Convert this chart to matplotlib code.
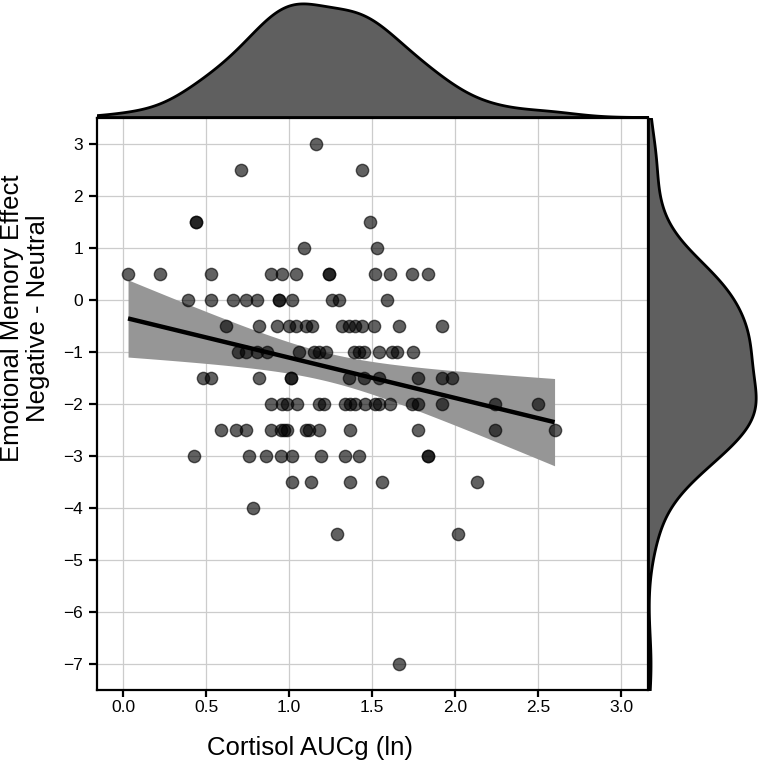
import numpy as np
import matplotlib
matplotlib.use("Agg")
import matplotlib.pyplot as plt

plt.rcParams['font.family'] = ['Liberation Sans', 'DejaVu Sans']

# ---- data ----
y_levels = [3.0, 2.5, 1.5, 1.0, 0.5, 0.0, -0.5, -1.0, -1.5, -2.0, -2.5, -3.0, -3.5, -4.0, -4.5, -7.0]
cortisol_by_level = [
    [1.16],
    [0.71, 1.44],
    [0.44, 0.44, 1.49],
    [1.09, 1.53],
    [0.03, 0.22, 0.53, 0.89, 0.96, 1.04, 1.24, 1.24, 1.52, 1.61, 1.74, 1.84],
    [0.39, 0.53, 0.66, 0.74, 0.81, 0.94, 0.94, 1.02, 1.26, 1.30, 1.59],
    [0.62, 0.82, 0.93, 1.00, 1.04, 1.10, 1.14, 1.32, 1.36, 1.40, 1.44, 1.51, 1.66, 1.92],
    [0.69, 0.74, 0.81, 0.87, 1.06, 1.15, 1.18, 1.22, 1.39, 1.42, 1.45, 1.54, 1.62, 1.65, 1.75],
    [0.48, 0.53, 0.82, 1.01, 1.01, 1.36, 1.45, 1.54, 1.78, 1.92, 1.98],
    [0.89, 0.96, 0.99, 1.05, 1.18, 1.21, 1.34, 1.37, 1.40, 1.46, 1.52, 1.54, 1.61, 1.74, 1.78, 1.92, 2.24, 2.50],
    [0.59, 0.68, 0.74, 0.89, 0.95, 0.97, 0.99, 1.10, 1.12, 1.18, 1.37, 1.78, 2.24, 2.60],
    [0.43, 0.76, 0.86, 0.95, 1.02, 1.19, 1.34, 1.42, 1.84, 1.84],
    [1.02, 1.13, 1.37, 1.56, 2.13],
    [0.78],
    [1.29, 2.02],
    [1.66],
]
x_ticks = [0.0, 0.5, 1.0, 1.5, 2.0, 2.5, 3.0]
y_ticks = [-7, -6, -5, -4, -3, -2, -1, 0, 1, 2, 3]
x_label = "Cortisol AUCg (ln)"
y_label = "Emotional Memory Effect\nNegative - Neutral"

cortisol = np.array([v for row in cortisol_by_level for v in row])
memory = np.array([lvl for lvl, row in zip(y_levels, cortisol_by_level) for _ in row])

# ---- figure layout ----
W, H = 760, 766
fig = plt.figure(figsize=(W / 100, H / 100), dpi=100)
ax = fig.add_axes([97 / W, 1 - 690 / H, 551 / W, 572 / H])
ax_top = fig.add_axes([97 / W, 1 - 117 / H, 551 / W, 117 / H], sharex=ax)
ax_right = fig.add_axes([648 / W, 1 - 690 / H, 112 / W, 572 / H], sharey=ax)

xlim = (-0.157, 3.163)
ylim = (-7.5, 3.5)

# scatter
ax.scatter(cortisol, memory, s=78, c='black', alpha=0.62, edgecolors='black',
           linewidths=1.0, zorder=3)

# regression with 95% CI
n = len(cortisol)
b, a = np.polyfit(cortisol, memory, 1)
xg = np.linspace(cortisol.min(), cortisol.max(), 100)
yg = a + b * xg
resid = memory - (a + b * cortisol)
s = np.sqrt(np.sum(resid ** 2) / (n - 2))
sxx = np.sum((cortisol - cortisol.mean()) ** 2)
se = s * np.sqrt(1 / n + (xg - cortisol.mean()) ** 2 / sxx)
tval = 1.98
ax.fill_between(xg, yg - tval * se, yg + tval * se, color='#969696', alpha=1.0,
                linewidth=0, zorder=2)
ax.plot(xg, yg, color='black', lw=3.2, zorder=4, solid_capstyle='butt')

ax.set_xlim(*xlim)
ax.set_ylim(*ylim)
ax.set_xticks(x_ticks)
ax.set_xticklabels([f"{t:.1f}" for t in x_ticks])
ax.set_yticks(y_ticks)
ax.grid(True, color='#cccccc', lw=0.9, zorder=0)
ax.set_axisbelow(True)
for sp in ax.spines.values():
    sp.set_color('black')
    sp.set_linewidth(1.6)
ax.tick_params(axis='both', direction='out', width=1.6, labelsize=12.5, colors='black')
ax.tick_params(axis='x', length=5, pad=2)
ax.tick_params(axis='y', length=6, pad=4)

ax.set_xlabel(x_label, fontsize=18.5, va='center')
ax.xaxis.set_label_coords((310 - 97) / 551, (690 - 748) / 572)
ax.set_ylabel(y_label, fontsize=18.5, va='center', linespacing=1.15)
ax.yaxis.set_label_coords((25 - 97) / 551, (690 - 318) / 572)


def kde(data, grid):
    d = np.asarray(data, float)
    bw = d.std(ddof=1) * len(d) ** (-1 / 5)
    z = (grid[:, None] - d[None, :]) / bw
    return np.exp(-0.5 * z ** 2).sum(axis=1) / (len(d) * bw * np.sqrt(2 * np.pi))


gx = np.linspace(xlim[0], xlim[1], 400)
dx = kde(cortisol, gx)
ax_top.fill_between(gx, 0, dx, facecolor='#5f5f5f', edgecolor='black', lw=2)
ax_top.set_ylim(0, dx.max() * 1.03)

gy = np.linspace(ylim[0], ylim[1], 400)
dy = kde(memory, gy)
ax_right.fill_betweenx(gy, 0, dy, facecolor='#5f5f5f', edgecolor='black', lw=2)
ax_right.set_xlim(0, dy.max() * 1.04)

for m in (ax_top, ax_right):
    m.axis('off')

fig.savefig("out.png", dpi=100)
